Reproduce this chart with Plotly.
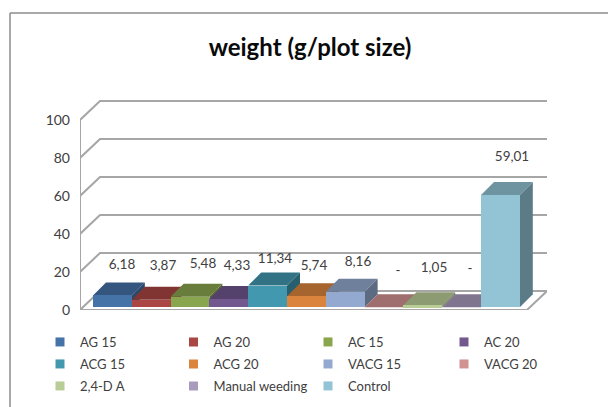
import plotly.graph_objects as go

# ---- data ----
categories = ["AG 15", "AG 20", "AC 15", "AC 20", "ACG 15", "ACG 20", "VACG 15", "VACG 20",
              "2,4-D A", "Manual weeding", "Control"]
values = [6.18, 3.87, 5.48, 4.33, 11.34, 5.74, 8.16, 0, 1.05, 0, 59.01]
value_labels = ["6,18", "3,87", "5,48", "4,33", "11,34", "5,74", "8,16", "-", "1,05", "-", "59,01"]
y_ticks = [0, 20, 40, 60, 80, 100]

# ---- styles ----
front_colors = ["#4572A7", "#AA4643", "#89A54E", "#71588F", "#4198AF", "#DB843D",
                "#93A9CF", "#D19392", "#B9CD96", "#A99BBD", "#92C4D5"]
TOP_SHADE, SIDE_SHADE = 0.76, 0.63
GRID = "#a6a6a6"
TEXT = "#404040"
FONT = "Lato, Carlito, sans-serif"

# ---- layout geometry (pixels) ----
W, H = 608, 407
L, R, T, B = 80, 547, 100, 310
PX_PER_CAT = 38.8
CAT0_PX = 112.4
PX_PER_UNIT = 1.9
BAR_BASE = 1.5
BAR_DX, BAR_DY = 13 / PX_PER_CAT, 13 / PX_PER_UNIT
WALL_DX, WALL_DY = 20 / PX_PER_CAT, 19 / PX_PER_UNIT
LEGEND_COL_PX = [40, 173.5, 308, 444]
LEGEND_ROW_PX = [342, 364, 386]


def to_x(px):
    return (px - CAT0_PX) / PX_PER_CAT


def to_y(py):
    return (B - py) / PX_PER_UNIT


def shade(hex_color, k):
    r, g, b = [int(hex_color[i:i + 2], 16) for i in (1, 3, 5)]
    return f"rgb({int(r * k)},{int(g * k)},{int(b * k)})"


x0, x1 = to_x(L), to_x(R)
front_right = x1 - WALL_DX
fig = go.Figure()

# back-wall gridlines with their diagonal returns, plus the front vertical edge
gx, gy = [x0, x0, None], [0, y_ticks[-1], None]
for t in y_ticks[1:]:
    gx += [x0, x0 + WALL_DX, x1, None]
    gy += [t, t + WALL_DY, t + WALL_DY, None]
fig.add_trace(go.Scatter(x=gx, y=gy, mode="lines", line=dict(color=GRID, width=2),
                         hoverinfo="skip", showlegend=False, cliponaxis=False))
# floor
fig.add_trace(go.Scatter(x=[x0, x0 + WALL_DX, x1, front_right, x0],
                         y=[0, WALL_DY, WALL_DY, 0, 0],
                         mode="lines", fill="toself", fillcolor="white",
                         line=dict(color=GRID, width=2),
                         hoverinfo="skip", showlegend=False, cliponaxis=False))

# side and top faces of each bar
for i, (v, c) in enumerate(zip(values, front_colors)):
    l, r = i - 0.5, i + 0.5
    t = BAR_BASE + v
    fig.add_trace(go.Scatter(
        x=[r, r, r + BAR_DX, r + BAR_DX, r],
        y=[BAR_BASE, t, t + BAR_DY, BAR_BASE + BAR_DY, BAR_BASE],
        mode="lines", fill="toself", fillcolor=shade(c, SIDE_SHADE), line=dict(width=0),
        hoverinfo="skip", showlegend=False))
    fig.add_trace(go.Scatter(
        x=[l, r, r + BAR_DX, l + BAR_DX, l],
        y=[t, t, t + BAR_DY, t + BAR_DY, t],
        mode="lines", fill="toself", fillcolor=shade(c, TOP_SHADE), line=dict(width=0),
        hoverinfo="skip", showlegend=False))

# front faces: real bars on an overlay subplot so that they cover earlier side faces
for i, (name, v, c) in enumerate(zip(categories, values, front_colors)):
    fig.add_trace(go.Bar(x=[i], y=[v], base=BAR_BASE, width=1, name=name, marker=dict(color=c, line=dict(width=0)),
                         xaxis="x2", yaxis="y2", showlegend=False,
                         hovertemplate=name + ": %{y}<extra></extra>"))

# legend entries: one legend per entry so that the 4-column grid is exact
legends = {}
for i, (name, c) in enumerate(zip(categories, front_colors)):
    key = "legend" if i == 0 else f"legend{i + 1}"
    fig.add_trace(go.Scatter(x=[None], y=[None], mode="markers", name=name,
                             marker=dict(symbol="square", size=9, color=c, line=dict(width=0)),
                             xaxis="x2", yaxis="y2", legend=key))
    row, col = divmod(i, 4)
    legends[key] = dict(x=(LEGEND_COL_PX[col] - L) / (R - L), xanchor="left",
                        y=(B - LEGEND_ROW_PX[row]) / (B - T), yanchor="middle",
                        font=dict(family=FONT, size=13, color=TEXT), bgcolor="rgba(0,0,0,0)",
                        itemclick=False, itemdoubleclick=False, borderwidth=0)

# value labels, as placed in the picture
label_px_x = [122, 163, 203, 237, 275, 314, 358, 398, 434, 470, 512]
label_px_y = [266, 267, 265, 267, 260, 267, 263, 272, 269, 270, 158]
fig.add_trace(go.Scatter(x=[to_x(p) for p in label_px_x], y=[to_y(p) for p in label_px_y],
                         text=value_labels, mode="text", textposition="middle center",
                         textfont=dict(family=FONT, size=13.5, color=TEXT),
                         xaxis="x2", yaxis="y2", hoverinfo="skip", showlegend=False, cliponaxis=False))

axis_common = dict(showgrid=False, zeroline=False)
fig.update_layout(
    width=W, height=H, autosize=False,
    margin=dict(l=L, r=W - R, t=T, b=H - B, pad=0, autoexpand=False),
    paper_bgcolor="white", plot_bgcolor="rgba(0,0,0,0)",
    barmode="overlay", bargap=0,
    title=dict(text="<b>weight (g/plot size)</b>", x=310 / W, xanchor="center", y=1 - 48 / H, yanchor="middle",
               font=dict(family=FONT, size=24, color="#0a0a0a")),
    xaxis=dict(range=[x0, x1], showticklabels=False, ticks="", showline=False, **axis_common),
    yaxis=dict(range=[0, to_y(T)], tickvals=y_ticks, ticklabelstandoff=9, ticks="",
               showline=False, tickfont=dict(family=FONT, size=14, color=TEXT), **axis_common),
    xaxis2=dict(overlaying="x", matches="x", visible=False, **axis_common),
    yaxis2=dict(overlaying="y", matches="y", visible=False, **axis_common),
    shapes=[
        dict(type="line", xref="paper", yref="paper", x0=(10 - L) / (R - L), x1=(W - L) / (R - L),
             y0=(B - 13) / (B - T), y1=(B - 13) / (B - T), line=dict(color="#8c8c8c", width=1.5)),
        dict(type="line", xref="paper", yref="paper", x0=(10 - L) / (R - L), x1=(10 - L) / (R - L),
             y0=(B - 13) / (B - T), y1=(B - H) / (B - T), line=dict(color="#8c8c8c", width=1.5)),
    ],
    **legends,
)

fig.write_html("out.html", post_script="document.body.style.margin='0';",
               config={"displayModeBar": False})
